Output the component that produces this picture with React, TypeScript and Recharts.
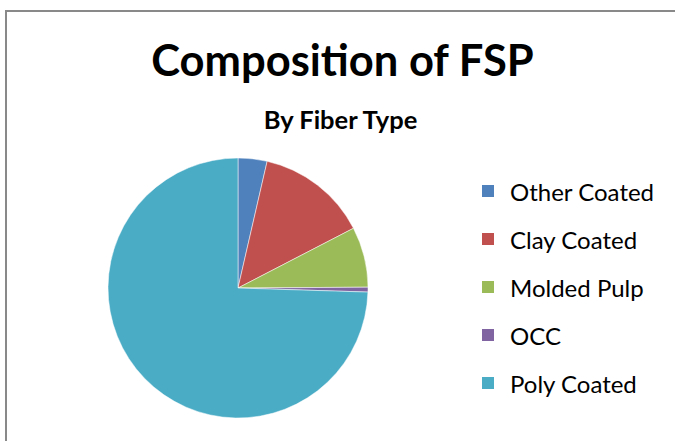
import React from 'react'
import { PieChart, Pie, Cell, Legend } from 'recharts'

const CATEGORIES = ['Other Coated', 'Clay Coated', 'Molded Pulp', 'OCC', 'Poly Coated']
const SHARES = [3.6, 13.8, 7.5, 0.6, 74.5]
const COLORS = ['#4F81BD', '#C0504D', '#9BBB59', '#8064A2', '#4BACC6']

const data = CATEGORIES.map((name, i) => ({ name, value: SHARES[i] }))

// legend kept in the series order (Recharts would sort it by name)
function LegendList() {
  return (
    <div style={{ fontFamily: 'Lato, sans-serif', fontSize: 24, color: '#000' }}>
      {CATEGORIES.map((name, i) => (
        <div key={name} style={{ display: 'flex', alignItems: 'center', height: 48 }}>
          <span style={{ width: 12, height: 12, background: COLORS[i], marginRight: 16, display: 'inline-block' }} />
          <span>{name}</span>
        </div>
      ))}
    </div>
  )
}

export default function App() {
  return (
    <div style={{ position: 'fixed', left: 0, top: 0, width: 675, height: 441, background: '#fff', overflow: 'hidden' }}>
      <div style={{ position: 'absolute', left: 5, top: 10, width: 720, height: 480, border: '2px solid #898989' }} />
      <div style={{ position: 'absolute', left: 0, top: 31, width: 685, textAlign: 'center', fontFamily: 'Lato, sans-serif', fontWeight: 700, fontSize: 43.5, lineHeight: '56px' }}>
        Composition of FSP
      </div>
      <div style={{ position: 'absolute', left: 0, top: 103, width: 681, textAlign: 'center', fontFamily: 'Lato, sans-serif', fontWeight: 700, fontSize: 25.5, lineHeight: '32px' }}>
        By Fiber Type
      </div>
      <div style={{ position: 'absolute', left: 0, top: 0 }}>
        <PieChart width={675} height={441} margin={{ top: 0, right: 0, bottom: 0, left: 0 }}>
          <Pie
            data={data}
            dataKey="value"
            nameKey="name"
            cx={238}
            cy={288}
            outerRadius={130}
            startAngle={90}
            endAngle={-270}
            stroke="#fff"
            strokeWidth={0.5}
            isAnimationActive={false}
          >
            {data.map((d, i) => (
              <Cell key={d.name} fill={COLORS[i]} />
            ))}
          </Pie>
          <Legend
            layout="vertical"
            align="right"
            verticalAlign="top"
            wrapperStyle={{ left: 482, top: 167, width: 190 }}
            content={() => <LegendList />}
          />
        </PieChart>
      </div>
    </div>
  )
}
